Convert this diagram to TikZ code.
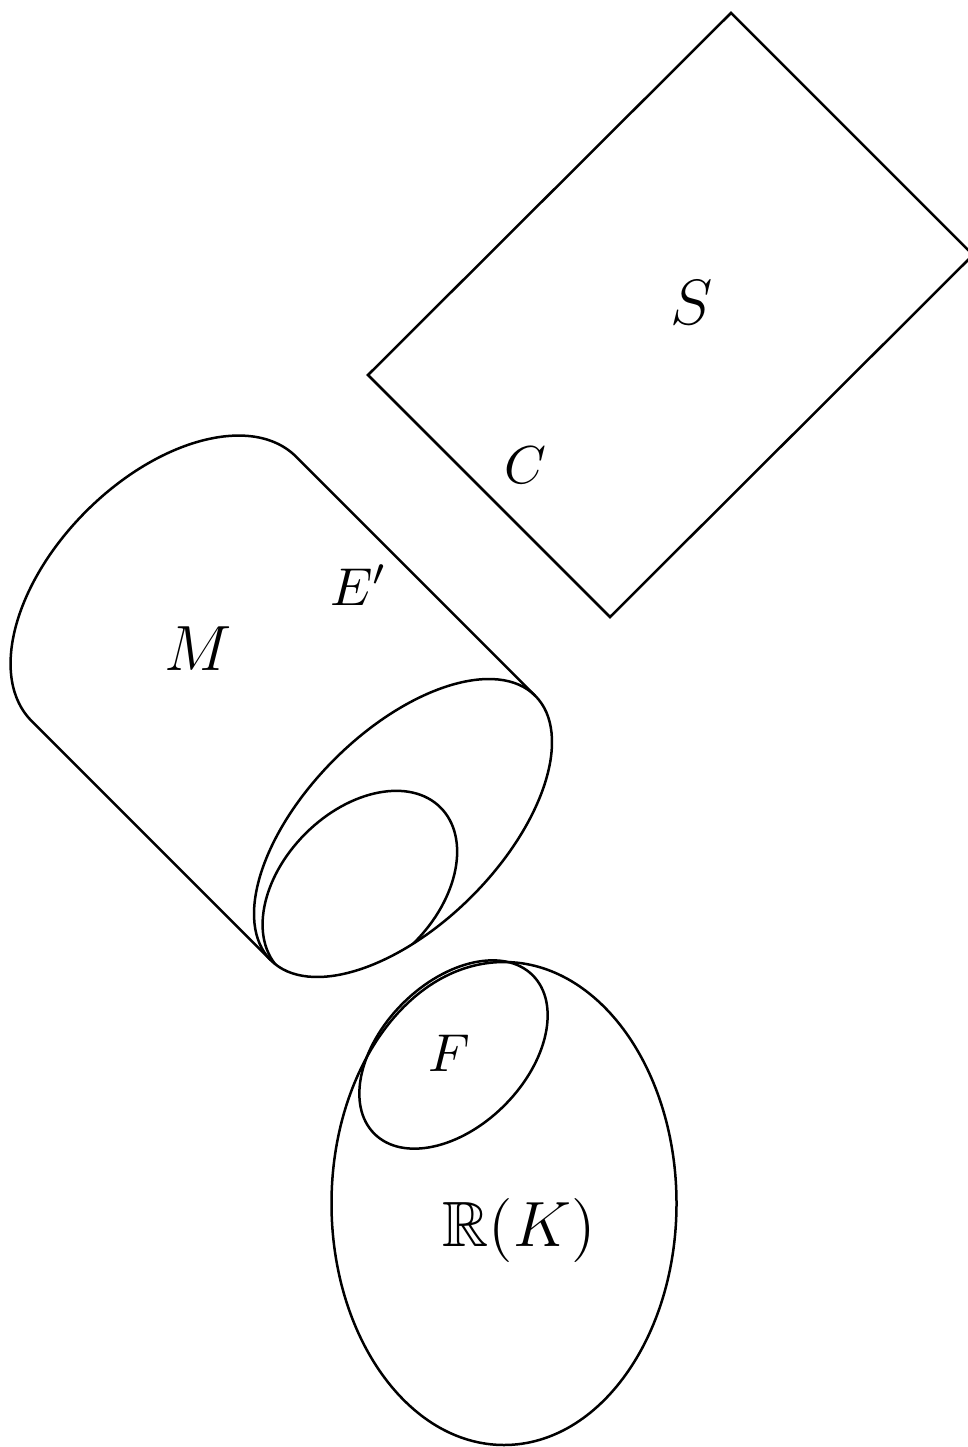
\documentclass[tikz,border=0pt]{standalone}
\usepackage{amssymb}
\begin{document}
\begin{tikzpicture}[x=0.3pt,y=0.3pt]
\tikzset{
  outline/.style={draw=black, line width=0.75pt, line join=miter},
  biglabel/.style={scale=1.6, font=\large, anchor=base, inner sep=0pt},
  smalllabel/.style={scale=1.6, anchor=base, inner sep=0pt}
}
\useasboundingbox (0,0) rectangle (967,-1447);

% rectangle S
\coordinate (st) at (731,-13);
\coordinate (sr) at (973,-255);
\coordinate (sb) at (610,-617);
\coordinate (sl) at (368,-375);
\draw[outline] (st) -- (sr) -- (sb) -- (sl) -- cycle;

% cylinder M
\begin{scope}[shift={(403,-828)}, rotate=45]
  \draw[outline] (187,0) -- (187,338)
     arc[start angle=0, end angle=180, x radius=187, y radius=110] -- (-187,0);
  \draw[outline] (0,0) ellipse[x radius=187, y radius=97];
  \begin{scope}
    \clip (0,0) ellipse[x radius=187, y radius=97];
    \draw[outline] (-73,-12) ellipse[x radius=114, y radius=77];
  \end{scope}
\end{scope}

% R(K) and F
\draw[outline] (504,-1203.5) ellipse[x radius=172.5, y radius=241.5];
\draw[outline, rotate around={45:(453.5,-1054.5)}] (453.5,-1054.5) ellipse[x radius=112, y radius=72];

% labels
\node[biglabel] (lS) at (692,-325) {$S$};
\node[smalllabel] (lC) at (525,-484) {$C$};
\node[smalllabel] (lE) at (359,-605) {$E'$};
\node[biglabel] (lM) at (198.5,-670.7) {$M$};
\node[smalllabel] (lF) at (449.5,-1071.7) {$F$};
\node[biglabel] (lR) at (519,-1246) {$\mathbb{R}(K)$};
\end{tikzpicture}
\end{document}
